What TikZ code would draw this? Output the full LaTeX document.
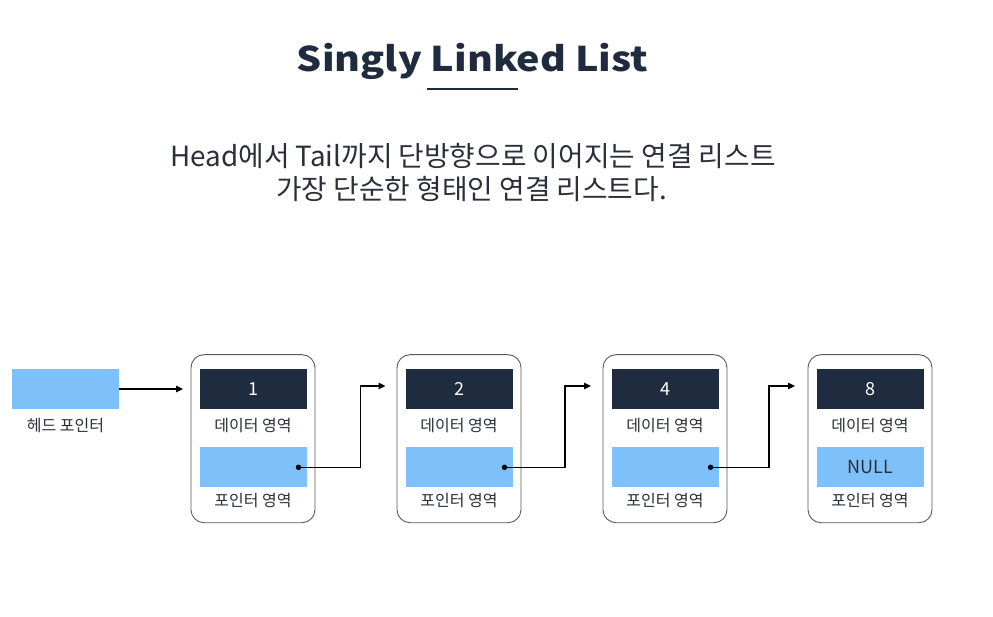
\documentclass[tikz,border=0pt]{standalone}
\usepackage{fontspec}
\setmainfont{Noto Sans CJK KR}
\newfontfamily\titlefont[FakeStretch=1.16]{Noto Sans CJK KR}
\usetikzlibrary{arrows.meta}
\definecolor{navy}{HTML}{1F2B3F}
\definecolor{lblue}{HTML}{7EC1FA}
\definecolor{txt}{HTML}{2A2F3A}
\definecolor{edge}{HTML}{5A5A5A}
\begin{document}
\begin{tikzpicture}[x=1pt,y=-1pt,
  cell/.style={draw=edge, line width=0.9pt, rounded corners=13pt, minimum width=124pt, minimum height=168pt, inner sep=0pt},
  databox/.style={fill=navy, minimum width=107pt, minimum height=40pt, inner sep=0pt, text=white, font=\fontsize{18}{21}\selectfont},
  ptrbox/.style={fill=lblue, minimum width=107pt, minimum height=40pt, inner sep=0pt, text=txt, font=\fontsize{18}{21}\selectfont},
  lbl/.style={text=txt, font=\fontsize{16}{19}\selectfont, inner sep=0pt},
  subtxt/.style={anchor=base, text=txt, font=\fontsize{27.8}{32}\selectfont, inner sep=0pt},
  link/.style={draw=black, line width=1.2pt, -{Triangle[length=7pt,width=6.5pt]}},
  dot/.style={circle, fill=black, minimum size=5.5pt, inner sep=0pt}
]
\path[use as bounding box, fill=white] (0,0) rectangle (993,617);

% title
\node[anchor=base, text=navy, font=\titlefont\fontsize{34}{38}\selectfont\bfseries, inner sep=0pt] (title) at (472.5,72) {Singly Linked List};
\draw[navy, line width=2pt] (427,89.5) -- (518,89.5);

% subtitle
\node[subtxt] (sub1) at (473,167) {Head에서 Tail까지 단방향으로 이어지는 연결 리스트};
\node[subtxt] (sub2) at (471.5,200) {가장 단순한 형태인 연결 리스트다.};

% head pointer
\node[ptrbox] (head) at (65.5,389) {};
\node[lbl] (headlbl) at (65.5,426) {헤드 포인터};

% cells
\foreach \i/\x/\v in {1/253/1, 2/459/2, 3/665/4, 4/870/8}{
  \node[cell] (c\i) at (\x,438.7) {};
  \node[databox] (d\i) at (\x,389.3) {\v};
  \node[lbl] (dl\i) at (\x,425.5) {데이터 영역};
  \node[lbl] (pl\i) at (\x,500.5) {포인터 영역};
}
\node[ptrbox] (p1) at (253,467.3) {};
\node[ptrbox] (p2) at (459,467.3) {};
\node[ptrbox] (p3) at (665,467.3) {};
\node[ptrbox] (p4) at (870,467.3) {NULL};

% dots
\node[dot] (o1) at (298.5,467.3) {};
\node[dot] (o2) at (504.5,467.3) {};
\node[dot] (o3) at (710.5,467.3) {};

% arrow end points and corners
\coordinate (th) at (183,389);
\coordinate (k1) at (360.5,386);
\coordinate (t1) at (385.5,386);
\coordinate (k2) at (565,386);
\coordinate (t2) at (591,386);
\coordinate (k3) at (769,386);
\coordinate (t3) at (795,386);

\draw[link] (head.east) -- (th);
\draw[link] (o1.center) -| (k1) -- (t1);
\draw[link] (o2.center) -| (k2) -- (t2);
\draw[link] (o3.center) -| (k3) -- (t3);
\end{tikzpicture}
\end{document}
